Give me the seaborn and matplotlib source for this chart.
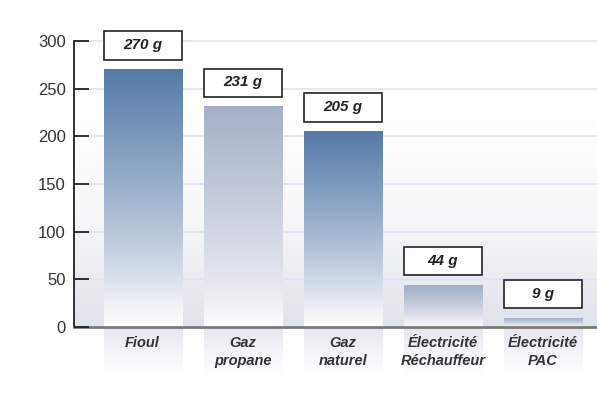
import numpy as np
import pandas as pd
import matplotlib
matplotlib.use("Agg")
import matplotlib.pyplot as plt
from matplotlib.colors import LinearSegmentedColormap
from matplotlib.patches import Rectangle
import seaborn as sns

# Emissions by heating energy (g CO2 / kWh)
categories = ["Fioul", "Gaz\npropane", "Gaz\nnaturel", "Électricité\nRéchauffeur", "Électricité\nPAC"]
values = [270, 231, 205, 44, 9]
value_labels = ["270 g", "231 g", "205 g", "44 g", "9 g"]
top_colors = ["#557ba9", "#a6b1c8", "#557ba9", "#a3aec6", "#a3aec6"]
yticks = [0, 50, 100, 150, 200, 250, 300]

sns.set_theme(style="white")
plt.rcParams["font.family"] = ["Liberation Sans Narrow", "Liberation Sans", "DejaVu Sans"]

fig = plt.figure(figsize=(5.97, 3.93), dpi=100)
scale = 286 / 300  # pixels per unit
ax_h = 320 * scale / 393
ax = fig.add_axes([74 / 597, 1 - 327 / 393, 1 - 74 / 597, ax_h])

df = pd.DataFrame({"cat": categories, "val": values})
sns.barplot(data=df, x="cat", y="val", ax=ax, width=0.78, color="#557ba9",
            saturation=1, zorder=3)

XMIN, XMAX = -0.685, 4.54
ax.set_xlim(XMIN, XMAX)
ax.set_ylim(0, 320)

# background gradient: white at top, light lavender grey near the baseline
bg = np.linspace(0, 1, 256).reshape(-1, 1)
bg_cmap = LinearSegmentedColormap.from_list("bg", ["#e1e3eb", "#f6f6f8", "#ffffff", "#ffffff"])
ax.imshow(bg, extent=(XMIN, XMAX, 0, 320), origin="lower", aspect="auto",
          cmap=bg_cmap, zorder=0)

# grid lines
for t in yticks[1:]:
    ax.axhline(t, color="#dbe3f4", lw=1.2, zorder=1)

# bars filled with vertical gradients fading to white at the base
for patch, c in zip(ax.patches, top_colors):
    x0, y0 = patch.get_x(), patch.get_y()
    w, h = patch.get_width(), patch.get_height()
    cmap = LinearSegmentedColormap.from_list("b", [(0, "#ffffff"), (0.12, "#f3f4f8"), (1, c)])
    g = np.linspace(0, 1, 256) ** 0.8
    ax.imshow(g.reshape(-1, 1), extent=(x0, x0 + w, y0, y0 + h), origin="lower",
              aspect="auto", cmap=cmap, vmin=0, vmax=1, zorder=3)
    patch.set_facecolor("none")
    patch.set_edgecolor("none")

# value boxes above bars
for i, (v, lab) in enumerate(zip(values, value_labels)):
    p = ax.patches[i]
    box = Rectangle((p.get_x(), v + 10.5), p.get_width(), 29.5, facecolor="white",
                    edgecolor="#222222", lw=1.2, zorder=5, clip_on=False)
    ax.add_patch(box)
    ax.text(p.get_x() + p.get_width() / 2, v + 25.5, lab, ha="center", va="center",
            fontsize=11, fontweight="bold", fontstyle="italic", color="#222222", zorder=6)

# category label panels below the baseline
panel_cmap = LinearSegmentedColormap.from_list("pn", ["#ffffff", "#f4f5f8", "#e4e6ee"])
for i, cat in enumerate(categories):
    p = ax.patches[i]
    im = ax.imshow(np.linspace(0, 1, 256).reshape(-1, 1),
                   extent=(p.get_x(), p.get_x() + p.get_width(), -52, 0), origin="lower",
                   aspect="auto", cmap=panel_cmap, zorder=2)
    im.set_clip_on(False)
    ax.text(p.get_x() + p.get_width() / 2, -9, cat, ha="center", va="top",
            fontsize=10.5, fontweight="bold", fontstyle="italic", color="#333333",
            linespacing=1.4, zorder=6, clip_on=False)

ax.set_xlim(XMIN, XMAX)
ax.set_ylim(0, 320)

# axes styling
ax.set_xlabel("")
ax.set_ylabel("")
ax.set_xticks([])
ax.set_yticks(yticks)
ax.set_yticklabels([str(t) for t in yticks], fontsize=12, color="#333333",
                   family=["Liberation Sans", "DejaVu Sans"])
ax.tick_params(axis="y", direction="in", length=11, width=1.3, color="#222222", pad=6, left=True)
ax.yaxis.set_zorder(7)
for s in ["top", "right"]:
    ax.spines[s].set_visible(False)
ax.spines["left"].set_color("#222222")
ax.spines["left"].set_linewidth(1.3)
ax.spines["left"].set_bounds(0, 300)
ax.spines["left"].set_zorder(7)
ax.spines["bottom"].set_color("#7a7a7a")
ax.spines["bottom"].set_linewidth(2)
ax.spines["bottom"].set_zorder(7)
ax.set_facecolor("white")

fig.savefig("out.png", dpi=100, facecolor="white")
